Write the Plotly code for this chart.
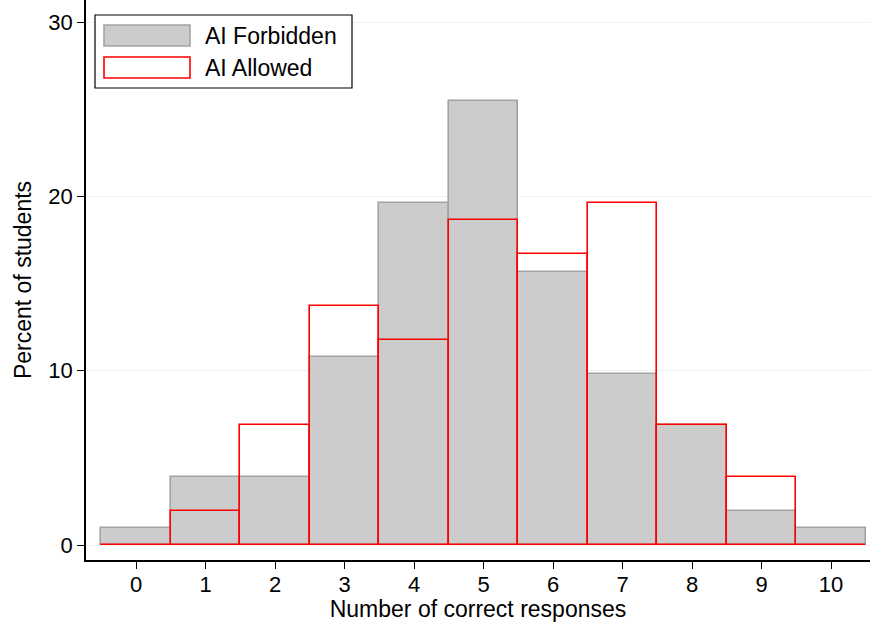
import plotly.graph_objects as go

scores = list(range(11))
tick_labels = [str(s) for s in scores]
pct_forbidden = [0.98, 3.92, 3.92, 10.78, 19.61, 25.49, 15.69, 9.80, 6.86, 1.96, 0.98]
pct_allowed = [0, 1.96, 6.86, 13.73, 11.76, 18.63, 16.67, 19.61, 6.86, 3.92, 0]
series_names = ["AI Forbidden", "AI Allowed"]

W, H = 870, 622
L, R, T, B = 86, 0, 0, 62
FONT = "Liberation Sans, Arial, sans-serif"
FS = 22
FT = 23

fig = go.Figure()
fig.add_trace(go.Bar(
    x=scores, y=pct_forbidden, width=1, name=series_names[0],
    marker=dict(color="#cccccc", line=dict(color="#a3a3a3", width=1.6)),
    showlegend=False,
))
fig.add_trace(go.Bar(
    x=scores, y=pct_allowed, width=1, name=series_names[1],
    marker=dict(color="rgba(0,0,0,0)", line=dict(color="#ff0000", width=1.6)),
    showlegend=False,
))

pw = W - L - R
ph = H - T - B
def px(x):
    return (x - L) / pw
def py(y):
    return (H - B - y) / ph

shapes = [
    dict(type="rect", xref="paper", yref="paper", x0=px(95), x1=px(352), y0=py(88), y1=py(15),
         line=dict(color="black", width=1.2), fillcolor="white", layer="above"),
    dict(type="rect", xref="paper", yref="paper", x0=px(104), x1=px(190), y0=py(46), y1=py(25),
         line=dict(color="#a3a3a3", width=1.6), fillcolor="#cccccc", layer="above"),
    dict(type="rect", xref="paper", yref="paper", x0=px(104), x1=px(190), y0=py(78), y1=py(57),
         line=dict(color="#ff0000", width=1.6), fillcolor="white", layer="above"),
]
annotations = [
    dict(xref="paper", yref="paper", x=px(203), y=py(36), text=series_names[0], showarrow=False,
         xanchor="left", yanchor="middle", font=dict(size=FT, color="black", family=FONT)),
    dict(xref="paper", yref="paper", x=px(203), y=py(68), text=series_names[1], showarrow=False,
         xanchor="left", yanchor="middle", font=dict(size=FT, color="black", family=FONT)),
]

fig.update_layout(
    width=W, height=H,
    margin=dict(l=L, r=R, t=T, b=B, pad=0, autoexpand=False),
    paper_bgcolor="white", plot_bgcolor="white",
    barmode="overlay", bargap=0,
    font=dict(family=FONT, size=FS, color="black"),
    shapes=shapes, annotations=annotations,
    xaxis=dict(
        range=[-0.72, 10.56], tickmode="array", tickvals=scores, ticktext=tick_labels,
        showline=True, linecolor="black", linewidth=1.5, ticks="outside", ticklen=7,
        tickcolor="black", tickwidth=1.2, showgrid=False, zeroline=False, automargin=False,
        ticklabelstandoff=-3,
        title=dict(text="Number of correct responses", standoff=0, font=dict(size=FT)),
        tickfont=dict(size=FS),
    ),
    yaxis=dict(
        range=[-0.86, 31.27], tickmode="array", tickvals=[0, 10, 20, 30],
        showline=True, linecolor="black", linewidth=1.5, ticks="outside", ticklen=7,
        tickcolor="black", tickwidth=1.2, showgrid=True, gridcolor="#eaf2f3", gridwidth=1.2,
        zeroline=False, automargin=False,
        title=dict(text="Percent of students", standoff=10, font=dict(size=FT)),
        tickfont=dict(size=FS),
    ),
)

fig.write_html("out.html", config={"displayModeBar": False},
               post_script="document.body.style.margin='0';document.body.style.overflow='hidden';")
